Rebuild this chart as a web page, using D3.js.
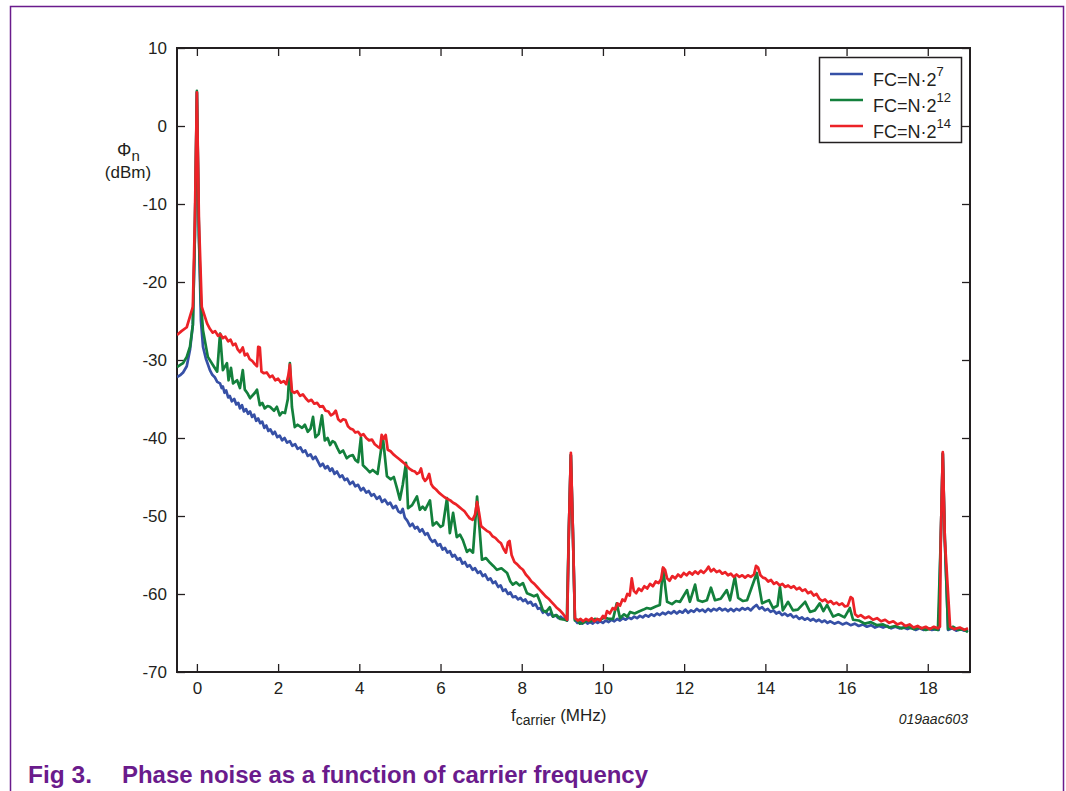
<!DOCTYPE html>
<html>
<head>
<meta charset="utf-8">
<script src="https://cdn.jsdelivr.net/npm/d3@7"></script>
<style>
  body { margin: 0; background: #fff; }
  svg { display: block; font-family: "Liberation Sans", Arial, sans-serif; }
</style>
</head>
<body>
<div id="chart"></div>
<script>
/* DATA: [carrier frequency in MHz, phase noise in dBm] */
const seriesBlue = [
  [-0.49,-32.2],[-0.40,-31.9],[-0.34,-31.6],[-0.25,-30.8],[-0.17,-28.7],[-0.10,-25.5],[-0.05,-14],[0,4.3],[0.05,-14],[0.10,-25],
  [0.15,-28.3],[0.22,-29.8],[0.32,-31.3],[0.38,-31.9],[0.44,-32.2],[0.50,-32.8],
  [0.57,-33.0],[0.61,-33.6],[0.64,-33.4],[0.68,-34.2],[0.72,-33.9],[0.77,-34.8],[0.81,-34.6],[0.86,-35.3],[0.92,-35.0],[0.97,-35.7],
  [1.02,-35.5],[1.06,-36.2],[1.11,-35.8],[1.16,-36.6],[1.21,-36.3],[1.26,-36.9],[1.31,-36.6],[1.36,-37.3],[1.41,-37.0],[1.46,-37.8],
  [1.51,-37.5],[1.56,-38.1],[1.61,-37.9],[1.66,-38.7],[1.71,-38.4],[1.76,-39.1],[1.81,-38.9],[1.87,-39.5],[1.92,-39.2],[1.98,-39.9],
  [2.04,-39.7],[2.10,-40.3],[2.16,-40.0],[2.22,-40.6],[2.29,-40.4],[2.35,-41.0],[2.42,-40.8],[2.48,-41.4],[2.55,-41.2],[2.61,-41.8],
  [2.67,-41.6],[2.73,-42.3],[2.80,-42.1],[2.86,-42.7],[2.92,-42.4],[2.98,-43.0],[3.04,-43.6],[3.10,-43.3],[3.16,-43.9],[3.22,-43.6],
  [3.28,-44.2],[3.33,-43.9],[3.39,-44.6],[3.45,-44.3],[3.52,-45.0],[3.58,-44.8],[3.64,-45.4],[3.70,-45.2],[3.77,-45.9],[3.84,-45.6],
  [3.90,-46.2],[3.97,-46.0],[4.04,-46.7],[4.10,-46.4],[4.17,-47.0],[4.23,-46.8],[4.30,-47.4],[4.36,-47.2],[4.43,-47.8],[4.50,-47.5],
  [4.56,-48.2],[4.63,-47.9],[4.70,-48.5],[4.76,-48.3],[4.83,-49.0],[4.90,-48.7],[4.96,-49.4],[5.02,-49.6],[5.07,-49.1],[5.12,-50.2],
  [5.18,-50.6],[5.25,-51.3],[5.31,-51.0],[5.37,-51.6],[5.43,-51.4],[5.49,-52.0],[5.55,-51.7],[5.62,-52.4],[5.68,-52.2],[5.74,-52.9],
  [5.80,-53.3],[5.86,-53.1],[5.93,-53.8],[5.99,-53.6],[6.05,-54.3],[6.11,-54.1],[6.17,-54.7],[6.23,-54.5],[6.29,-55.2],[6.35,-55.0],
  [6.42,-55.6],[6.48,-55.4],[6.54,-56.1],[6.60,-55.9],[6.66,-56.5],[6.72,-56.3],[6.79,-56.9],[6.85,-56.7],[6.92,-57.3],[6.98,-57.1],
  [7.04,-57.7],[7.10,-57.5],[7.17,-58.2],[7.23,-58.0],[7.29,-58.6],[7.35,-58.4],[7.42,-59.1],[7.48,-58.9],[7.54,-59.6],[7.60,-59.4],
  [7.66,-60.0],[7.72,-59.8],[7.78,-60.4],[7.85,-60.3],[7.91,-60.7],[7.97,-60.5],[8.03,-60.9],[8.09,-60.7],[8.15,-61.2],[8.22,-61.0],
  [8.28,-61.5],[8.34,-61.3],[8.40,-61.9],[8.46,-61.8],[8.52,-62.4],[8.58,-62.2],[8.65,-62.7],[8.71,-62.5],[8.77,-62.9],[8.83,-62.7],
  [8.90,-63.1],[8.96,-62.9],[9.02,-63.2],[9.08,-63.1],[9.12,-63.4],[9.16,-52],[9.21,-42.2],[9.26,-52],
  [9.31,-63.3],[9.37,-63.7],[9.43,-63.5],[9.49,-63.8],[9.56,-63.5],[9.62,-63.8],[9.68,-63.6],[9.75,-63.8],[9.81,-63.5],[9.87,-63.7],
  [9.93,-63.5],[10.00,-63.7],[10.07,-63.4],[10.14,-63.6],[10.21,-63.3],[10.28,-63.5],[10.35,-63.2],[10.42,-63.4],[10.49,-63.1],[10.56,-63.3],
  [10.63,-63.0],[10.70,-63.2],[10.77,-62.9],[10.84,-63.1],[10.91,-62.8],[10.98,-63.0],[11.05,-62.7],[11.12,-62.9],[11.19,-62.6],[11.26,-62.8],
  [11.33,-62.5],[11.40,-62.7],[11.47,-62.4],[11.54,-62.6],[11.61,-62.3],[11.68,-62.5],[11.75,-62.2],[11.82,-62.5],[11.89,-62.2],[11.96,-62.4],
  [12.03,-62.0],[12.10,-62.4],[12.17,-62.1],[12.24,-62.3],[12.31,-61.9],[12.38,-62.2],[12.45,-62.0],[12.52,-62.3],[12.59,-61.9],[12.66,-62.2],
  [12.73,-61.9],[12.80,-62.1],[12.87,-61.8],[12.94,-62.1],[13.01,-61.9],[13.08,-62.2],[13.15,-61.9],[13.22,-62.2],[13.29,-61.9],[13.36,-62.1],
  [13.43,-61.8],[13.50,-62.0],[13.57,-61.8],[13.64,-62.1],[13.71,-61.7],[13.78,-61.4],[13.85,-61.9],[13.92,-61.7],[13.99,-62.1],[14.06,-61.9],
  [14.13,-62.3],[14.20,-62.1],[14.27,-62.5],[14.34,-62.3],[14.41,-62.7],[14.48,-62.5],[14.55,-62.8],[14.62,-62.6],[14.69,-63.0],[14.76,-62.8],
  [14.83,-63.2],[14.90,-63.0],[14.97,-63.3],[15.04,-63.1],[15.11,-63.4],[15.18,-63.2],[15.25,-63.5],[15.32,-63.3],[15.39,-63.6],[15.46,-63.4],
  [15.53,-63.7],[15.60,-63.5],[15.70,-63.8],[15.80,-63.6],[15.90,-63.9],[16.00,-63.7],[16.10,-64.0],[16.20,-63.8],[16.30,-64.1],[16.40,-63.9],
  [16.50,-64.2],[16.60,-64.0],[16.70,-64.3],[16.80,-64.1],[16.90,-64.3],[17.00,-64.1],[17.10,-64.4],[17.20,-64.2],[17.30,-64.4],[17.40,-64.3],
  [17.50,-64.5],[17.60,-64.3],[17.70,-64.6],[17.80,-64.4],[17.90,-64.6],[18.00,-64.4],[18.10,-64.6],[18.20,-64.5],[18.27,-64.6],
  [18.32,-53],[18.37,-42],[18.42,-53],[18.50,-64.6],[18.60,-64.4],[18.70,-64.7],[18.80,-64.5],[18.90,-64.7],[18.99,-64.6]
];

const seriesGreen = [
  [-0.49,-30.9],[-0.40,-30.6],[-0.34,-30.4],[-0.25,-29.6],[-0.17,-28.3],[-0.10,-25.5],[-0.05,-14],[0,4.5],[0.05,-14],[0.10,-22.7],
  [0.15,-26.2],[0.27,-29.6],[0.39,-30.6],[0.50,-31.5],[0.57,-26.6],[0.64,-31.3],[0.74,-30.4],[0.78,-32.6],[0.84,-31.0],[0.89,-33.0],
  [0.99,-32.6],[1.06,-33.6],[1.13,-31.3],[1.18,-33.8],[1.25,-34.3],[1.31,-34.9],[1.43,-34.2],[1.48,-33.8],[1.55,-35.8],[1.61,-35.5],
  [1.67,-36.2],[1.74,-35.9],[1.80,-36.0],[1.90,-36.5],[1.97,-36.0],[2.04,-37.1],[2.10,-36.7],[2.17,-36.8],[2.24,-35],[2.29,-30.4],
  [2.34,-36.0],[2.41,-38.6],[2.48,-38.3],[2.59,-38.7],[2.66,-38.3],[2.73,-39.2],[2.80,-38.8],[2.86,-37.3],[2.92,-39.9],[3.00,-39.5],
  [3.08,-37.1],[3.15,-40.3],[3.22,-40.0],[3.28,-40.9],[3.34,-40.4],[3.40,-40.6],[3.46,-41.3],[3.52,-41.9],[3.60,-41.6],[3.69,-42.6],
  [3.76,-42.3],[3.84,-42.2],[3.90,-42.8],[3.97,-43.1],[4.04,-39.9],[4.09,-43.5],[4.17,-43.9],[4.26,-44.4],[4.33,-44.1],[4.45,-44.6],
  [4.58,-39.9],[4.68,-44.9],[4.77,-45.3],[4.85,-45.0],[4.93,-46.5],[5.00,-47.9],[5.07,-46],[5.15,-43.2],[5.20,-49.0],[5.30,-48.6],
  [5.42,-47.5],[5.49,-49.2],[5.56,-48.8],[5.62,-49.2],[5.74,-48.0],[5.81,-51.2],[5.90,-50.8],[6.00,-51.4],[6.06,-51.2],[6.16,-47.7],
  [6.23,-52.2],[6.31,-49.6],[6.40,-52.7],[6.48,-52.4],[6.55,-53.1],[6.65,-54.6],[6.72,-54.3],[6.80,-54.7],[6.90,-47.5],[7.02,-55.6],
  [7.12,-55.4],[7.22,-56.0],[7.30,-56.4],[7.39,-56.9],[7.50,-56.7],[7.64,-57.3],[7.72,-58.4],[7.78,-58.8],[7.86,-58.5],[7.95,-58.9],
  [8.03,-58.6],[8.13,-59.9],[8.22,-60.1],[8.30,-60.3],[8.38,-60.1],[8.45,-61.0],[8.52,-62.1],[8.60,-62.3],[8.69,-61.7],[8.77,-62.9],
  [8.86,-62.7],[8.95,-63.2],[9.06,-63.3],[9.11,-63.4],[9.16,-52],[9.21,-42.2],[9.26,-52],[9.31,-63.4],[9.36,-63.3],[9.43,-63.8],
  [9.51,-63.7],[9.60,-63.4],[9.70,-63.5],[9.80,-63.2],[9.93,-63.3],[10.05,-63.0],[10.15,-63.2],[10.25,-63.2],[10.34,-61.2],[10.42,-63.1],
  [10.52,-62.6],[10.60,-62.9],[10.67,-62.3],[10.78,-62.5],[10.90,-62.2],[11.00,-62.0],[11.08,-61.8],[11.18,-61.9],[11.30,-61.6],[11.40,-61.4],
  [11.48,-56.7],[11.58,-61.0],[11.70,-61.3],[11.80,-60.9],[11.90,-61.0],[12.07,-59.5],[12.14,-61.0],[12.27,-58.8],[12.34,-60.8],[12.45,-61.0],
  [12.56,-60.8],[12.66,-59.2],[12.76,-60.8],[12.90,-60.6],[13.05,-59.5],[13.13,-60.8],[13.25,-57.8],[13.33,-60.5],[13.45,-60.9],[13.55,-60.8],
  [13.79,-57.3],[13.92,-61.2],[14.00,-61.0],[14.09,-60.8],[14.19,-61.8],[14.30,-61.5],[14.36,-59.1],[14.43,-62.1],[14.56,-61.0],[14.68,-62.1],
  [14.80,-62.0],[14.98,-61.0],[15.10,-62.3],[15.22,-62.1],[15.34,-61.2],[15.43,-62.2],[15.52,-61.4],[15.67,-62.9],[15.80,-62.6],[15.95,-63.0],
  [16.08,-61.8],[16.16,-63.3],[16.30,-63.4],[16.45,-63.8],[16.60,-63.6],[16.75,-64.0],[16.90,-63.9],[17.05,-64.3],[17.20,-64.1],[17.35,-64.4],
  [17.50,-64.2],[17.65,-64.5],[17.80,-64.3],[17.95,-64.6],[18.10,-64.4],[18.25,-64.6],[18.32,-53],[18.37,-42],[18.42,-53],[18.50,-64.5],
  [18.62,-64.2],[18.75,-64.6],[18.87,-64.5],[18.99,-64.9]
];

const seriesRed = [
  [-0.49,-26.8],[-0.38,-26.3],[-0.25,-25.8],[-0.10,-23.2],[-0.05,-12],[0,4.3],[0.05,-12],[0.12,-23.2],
  [0.25,-25.3],[0.32,-26.0],[0.39,-26.5],[0.45,-26.3],[0.52,-26.9],[0.58,-26.7],[0.64,-27.2],[0.70,-27.0],[0.77,-27.6],[0.83,-27.4],
  [0.89,-28.1],[0.95,-27.9],[1.00,-28.6],[1.06,-29.0],[1.13,-28.4],[1.18,-29.4],[1.24,-29.2],[1.30,-29.9],[1.36,-30.1],[1.42,-30.5],
  [1.48,-30.8],[1.51,-28.3],[1.55,-28.4],[1.59,-31.5],[1.65,-31.7],[1.72,-31.6],[1.80,-32.2],[1.86,-32.0],[1.93,-32.6],[2.00,-32.4],
  [2.07,-32.9],[2.14,-32.7],[2.20,-33.1],[2.25,-32],[2.29,-30.6],[2.34,-34.0],[2.40,-34.2],[2.47,-34.0],[2.54,-34.6],[2.61,-34.4],
  [2.68,-34.9],[2.75,-35.3],[2.82,-35.1],[2.89,-35.6],[2.96,-35.5],[3.03,-36.0],[3.10,-35.9],[3.17,-36.5],[3.24,-36.6],[3.30,-37.1],
  [3.36,-36.9],[3.42,-36.5],[3.48,-37.6],[3.54,-37.9],[3.60,-37.6],[3.66,-37.7],[3.72,-38.5],[3.78,-38.8],[3.84,-38.9],[3.90,-39.3],
  [3.97,-39.2],[4.04,-39.7],[4.10,-39.5],[4.17,-40.0],[4.24,-40.3],[4.31,-40.2],[4.38,-40.8],[4.45,-41.1],[4.51,-41.3],[4.55,-39.6],
  [4.60,-40.1],[4.65,-39.6],[4.70,-41.5],[4.77,-41.7],[4.84,-42.1],[4.91,-42.4],[4.98,-42.7],[5.05,-43.0],[5.12,-43.3],[5.19,-43.7],
  [5.25,-44.0],[5.31,-44.2],[5.37,-44.3],[5.42,-44.6],[5.48,-44.4],[5.52,-43.9],[5.57,-45.1],[5.62,-45.5],[5.67,-45.2],[5.72,-44.6],
  [5.77,-45.9],[5.82,-46.3],[5.89,-46.6],[5.96,-47.0],[6.03,-47.3],[6.10,-47.6],[6.17,-47.8],[6.24,-48.0],[6.31,-48.3],[6.38,-48.5],
  [6.45,-48.8],[6.52,-49.1],[6.59,-49.4],[6.66,-49.9],[6.72,-50.3],[6.79,-50.5],[6.85,-49.8],[6.90,-48.2],[6.95,-49.6],[7.00,-51.3],
  [7.07,-51.6],[7.14,-51.9],[7.21,-52.1],[7.28,-52.6],[7.35,-52.8],[7.42,-53.2],[7.49,-53.5],[7.55,-54.2],[7.61,-54.7],[7.66,-53.4],
  [7.70,-53.2],[7.75,-55.0],[7.82,-55.9],[7.89,-56.2],[7.96,-56.6],[8.03,-56.9],[8.10,-57.5],[8.17,-57.9],[8.24,-58.4],[8.31,-58.7],
  [8.38,-59.1],[8.45,-59.5],[8.52,-59.9],[8.59,-60.3],[8.66,-60.6],[8.73,-61.0],[8.80,-61.4],[8.87,-61.8],[8.94,-62.1],[9.01,-62.5],
  [9.08,-63.0],[9.12,-63.3],[9.16,-52],[9.21,-41.9],[9.26,-52],
  [9.31,-63.1],[9.38,-63.4],[9.45,-63.2],[9.51,-63.5],[9.58,-63.2],[9.65,-63.4],[9.72,-63.1],[9.79,-63.5],[9.86,-63.2],[9.93,-63.4],
  [10.00,-62.8],[10.05,-63.1],[10.10,-62.2],[10.17,-62.5],[10.24,-61.8],[10.30,-62.0],[10.36,-61.2],[10.42,-61.5],[10.48,-60.7],[10.54,-60.9],
  [10.60,-60.0],[10.66,-60.2],[10.71,-58.0],[10.76,-59.6],[10.82,-59.9],[10.88,-59.3],[10.95,-59.6],[11.02,-59.0],[11.09,-59.3],[11.16,-58.7],
  [11.23,-59.0],[11.30,-58.4],[11.37,-58.6],[11.43,-58.1],[11.48,-56.6],[11.53,-56.9],[11.58,-58.0],[11.64,-58.3],[11.71,-57.7],[11.78,-58.0],
  [11.85,-57.5],[11.92,-57.8],[11.99,-57.3],[12.06,-57.6],[12.13,-57.2],[12.20,-57.5],[12.27,-57.1],[12.34,-57.4],[12.41,-57.0],[12.48,-57.3],
  [12.55,-56.9],[12.60,-56.5],[12.66,-57.1],[12.73,-56.8],[12.80,-57.2],[12.87,-57.0],[12.94,-57.4],[13.01,-57.2],[13.08,-57.6],[13.15,-57.4],
  [13.22,-57.8],[13.29,-57.5],[13.36,-57.8],[13.43,-57.6],[13.50,-57.9],[13.57,-57.6],[13.64,-57.8],[13.72,-57.5],[13.77,-56.4],[13.82,-56.6],
  [13.88,-57.6],[13.94,-57.9],[14.00,-58.0],[14.07,-58.4],[14.14,-58.2],[14.21,-58.7],[14.28,-58.5],[14.35,-58.9],[14.42,-58.7],[14.49,-59.1],
  [14.56,-58.9],[14.63,-59.2],[14.70,-59.0],[14.77,-59.4],[14.84,-59.2],[14.91,-59.6],[14.98,-59.4],[15.05,-59.9],[15.12,-59.7],[15.19,-60.2],
  [15.26,-60.0],[15.33,-60.6],[15.40,-60.9],[15.47,-60.7],[15.54,-61.1],[15.61,-60.9],[15.68,-61.3],[15.75,-61.1],[15.82,-61.4],[15.89,-61.2],
  [15.96,-61.6],[16.03,-61.5],[16.10,-60.4],[16.15,-60.6],[16.21,-62.6],[16.28,-62.9],[16.35,-62.7],[16.45,-63.1],[16.55,-62.9],[16.65,-63.3],
  [16.75,-63.1],[16.85,-63.5],[16.95,-63.3],[17.05,-63.7],[17.15,-63.5],[17.25,-63.9],[17.35,-63.7],[17.45,-64.1],[17.55,-63.9],[17.65,-64.3],
  [17.75,-64.1],[17.85,-64.4],[17.95,-64.2],[18.05,-64.5],[18.15,-64.2],[18.25,-64.4],[18.30,-64.2],[18.32,-53],[18.37,-41.8],[18.42,-53],
  [18.55,-64.2],[18.65,-64.5],[18.79,-64.3],[18.90,-64.6],[18.99,-64.4]
];

const legendLabels = [["FC=N\u00B72", "7"], ["FC=N\u00B72", "12"], ["FC=N\u00B72", "14"]];
const lineColors = ["#3650a6", "#13803c", "#ec2227"];
const xTicks = [0, 2, 4, 6, 8, 10, 12, 14, 16, 18];
const yTicks = [10, 0, -10, -20, -30, -40, -50, -60, -70];

const width = 1066, height = 791;
const margin = { top: 48, right: 96, bottom: 119, left: 177 };
const purple = "#6a1b8c";

const svg = d3.select("#chart").append("svg")
  .attr("width", width)
  .attr("height", height);

// figure frame
svg.append("rect")
  .attr("x", 10.5).attr("y", 6.5)
  .attr("width", 1053).attr("height", 800)
  .attr("fill", "none").attr("stroke", purple).attr("stroke-width", 1.5);

const xScale = d3.scaleLinear()
  .domain([-0.49, 19.04])
  .range([margin.left, width - margin.right]);

const yScale = d3.scaleLinear()
  .domain([-70, 10])
  .range([height - margin.bottom, margin.top]);

const plotW = width - margin.right - margin.left;
const plotH = height - margin.bottom - margin.top;

svg.append("clipPath").attr("id", "plotclip")
  .append("rect")
  .attr("x", margin.left).attr("y", margin.top)
  .attr("width", plotW).attr("height", plotH);

// axes, ticks pointing inward on all four sides
const axisStyle = g => {
  g.select(".domain").remove();
  g.selectAll(".tick line").attr("stroke", "#231f20").attr("stroke-width", 1.3);
  g.selectAll(".tick text").attr("fill", "#231f20").attr("font-size", 17);
};
const plainNum = d => String(d); // keep the ASCII hyphen-minus like the figure

svg.append("g")
  .attr("transform", `translate(0, ${height - margin.bottom})`)
  .call(d3.axisBottom(xScale).tickValues(xTicks).tickFormat(plainNum).tickSizeInner(-8).tickSizeOuter(0).tickPadding(10))
  .call(axisStyle);

svg.append("g")
  .attr("transform", `translate(0, ${margin.top})`)
  .call(d3.axisTop(xScale).tickValues(xTicks).tickSizeInner(-8).tickSizeOuter(0).tickFormat(""))
  .call(axisStyle);

svg.append("g")
  .attr("transform", `translate(${margin.left}, 0)`)
  .call(d3.axisLeft(yScale).tickValues(yTicks).tickFormat(plainNum).tickSizeInner(-8).tickSizeOuter(0).tickPadding(10))
  .call(axisStyle);

svg.append("g")
  .attr("transform", `translate(${width - margin.right}, 0)`)
  .call(d3.axisRight(yScale).tickValues(yTicks).tickSizeInner(-8).tickSizeOuter(0).tickFormat(""))
  .call(axisStyle);

// plot box
svg.append("rect")
  .attr("x", margin.left).attr("y", margin.top)
  .attr("width", plotW).attr("height", plotH)
  .attr("fill", "none").attr("stroke", "#231f20").attr("stroke-width", 2);

// lines
const lineFn = d3.line()
  .x(d => xScale(d[0]))
  .y(d => yScale(d[1]));

svg.append("g").attr("clip-path", "url(#plotclip)")
  .selectAll("path")
  .data([seriesBlue, seriesGreen, seriesRed])
  .join("path")
  .attr("fill", "none")
  .attr("stroke", (d, i) => lineColors[i])
  .attr("stroke-width", 2.7)
  .attr("stroke-linejoin", "round")
  .attr("d", lineFn);

// legend
const legend = svg.append("g");
legend.append("rect")
  .attr("x", 819.5).attr("y", 57.5)
  .attr("width", 142).attr("height", 85)
  .attr("fill", "#fff").attr("stroke", "#231f20").attr("stroke-width", 1.5);

legendLabels.forEach((lab, i) => {
  const cy = 74 + i * 26;
  legend.append("line")
    .attr("x1", 830).attr("x2", 863)
    .attr("y1", cy).attr("y2", cy)
    .attr("stroke", lineColors[i]).attr("stroke-width", 2.7);
  const t = legend.append("text")
    .attr("x", 873).attr("y", cy + 12)
    .attr("font-size", 18).attr("fill", "#231f20");
  t.append("tspan").text(lab[0]);
  t.append("tspan").attr("dy", -10).attr("font-size", 13).text(lab[1]);
});

// y axis label
const yl = svg.append("text").attr("x", 117).attr("y", 156).attr("font-size", 18).attr("fill", "#231f20");
yl.append("tspan").text("\u03A6");
yl.append("tspan").attr("dy", 5).attr("font-size", 15).text("n");
svg.append("text").attr("x", 128).attr("y", 178).attr("text-anchor", "middle")
  .attr("font-size", 17).attr("fill", "#231f20").text("(dBm)");

// x axis label
const xl = svg.append("text").attr("x", 511).attr("y", 721).attr("font-size", 17).attr("fill", "#231f20");
xl.append("tspan").text("f");
xl.append("tspan").attr("dy", 4).attr("font-size", 14).text("carrier");
xl.append("tspan").attr("dy", -4).text(" (MHz)");

svg.append("text").attr("x", 968).attr("y", 724).attr("text-anchor", "end")
  .attr("font-size", 14).attr("font-style", "italic").attr("fill", "#231f20").text("019aac603");

// caption
svg.append("text").attr("x", 28).attr("y", 783).attr("font-size", 23).attr("font-weight", "bold")
  .attr("fill", purple).attr("textLength", 64).attr("lengthAdjust", "spacingAndGlyphs").text("Fig 3.");
svg.append("text").attr("x", 122).attr("y", 783).attr("font-size", 23).attr("font-weight", "bold")
  .attr("fill", purple).attr("textLength", 526).attr("lengthAdjust", "spacingAndGlyphs")
  .text("Phase noise as a function of carrier frequency");
</script>
</body>
</html>
